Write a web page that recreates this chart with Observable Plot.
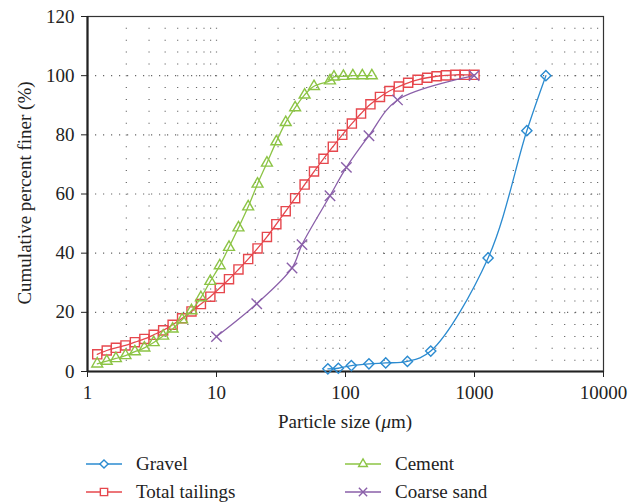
<!DOCTYPE html>
<html>
<head>
<meta charset="utf-8">
<script src="https://cdn.jsdelivr.net/npm/d3@7"></script>
<script src="https://cdn.jsdelivr.net/npm/@observablehq/plot@0.6"></script>
<style>
  body { margin: 0; background: white; font-family: "Liberation Serif", serif; }
  #legend { display: grid; grid-template-columns: 259px 250px; margin-left: 86px; margin-top: 5px; font-size: 19px; color: #222; }
  .item { display: flex; align-items: center; height: 28px; }
  .item svg { margin-right: 14px; }
</style>
</head>
<body>
<div id="chart"></div>
<div id="legend"></div>
<script>
// ---- data ----
const seriesNames = ["Gravel", "Total tailings", "Cement", "Coarse sand"];
const seriesColors = ["#2b8bd0", "#e6474d", "#8cc445", "#8a5fa9"];

const gravelSize = [73, 88, 111, 152, 205, 302, 458, 1275, 2545, 3575];
const gravelPct  = [0.9, 1.1, 2.0, 2.6, 2.9, 3.4, 6.9, 38.4, 81.4, 100];

const tailingsSize = [1.19, 1.41, 1.66, 1.97, 2.33, 2.76, 3.26, 3.86, 4.57, 5.41,
  6.40, 7.57, 8.96, 10.6, 12.5, 14.8, 17.6, 20.8, 24.6, 29.1,
  34.4, 40.7, 48.2, 57.0, 67.5, 79.8, 94.4, 112, 132, 156,
  185, 219, 259, 306, 362, 430, 508, 601, 711, 841, 1000];
const tailingsPct = [5.8, 7.1, 8.0, 8.8, 9.9, 11.0, 12.4, 13.9, 15.8, 18.0,
  20.3, 22.8, 25.3, 28.2, 31.2, 34.5, 38.0, 41.6, 45.5, 49.8,
  54.2, 58.6, 63.2, 67.6, 71.9, 76.0, 80.0, 83.8, 87.2, 90.3,
  92.8, 94.8, 96.3, 97.6, 98.6, 99.3, 99.8, 100.1, 100.3, 100.3, 100.3];

const cementSize = [1.19, 1.41, 1.66, 1.97, 2.33, 2.76, 3.26, 3.86, 4.57, 5.41,
  6.40, 7.57, 8.96, 10.6, 12.5, 14.8, 17.6, 20.8, 24.6, 29.1,
  34.4, 40.7, 48.2, 57.0, 75.8, 81.4, 96.3, 114, 135, 160];
const cementPct = [2.6, 3.5, 4.4, 5.4, 6.7, 8.0, 9.8, 12.0, 14.4, 17.5,
  20.6, 25.0, 30.5, 35.8, 42.0, 48.6, 55.7, 63.4, 70.5, 77.7,
  84.2, 89.2, 93.5, 96.4, 98.3, 99.6, 99.8, 100, 100, 100];

const sandSize = [10, 20.5, 38.5, 46, 75.8, 101.6, 152, 253, 993];
const sandPct  = [11.8, 22.9, 35.0, 42.9, 59.4, 69.0, 79.7, 91.8, 100];

const xTicks = [1, 10, 100, 1000, 10000];
const yTicks = [0, 20, 40, 60, 80, 100, 120];
const xMinor = [2,3,4,5,6,7,8,9,10,20,30,40,50,60,70,80,90,100,200,300,400,500,600,700,800,900,1000,2000,3000,4000,5000,6000,7000,8000,9000];
const yMajorGrid = [20, 40, 60, 80, 100];

// ---- build table ----
const sizes = [gravelSize, tailingsSize, cementSize, sandSize];
const pcts = [gravelPct, tailingsPct, cementPct, sandPct];
const symbols = ["diamond2", "square2", "triangle2", "times"];
const radii = [4.6, 5.8, 5.2, 4.8];
const rows = [];
seriesNames.forEach((name, s) => sizes[s].forEach((v, i) => rows.push({series: name, size: v, pct: pcts[s][i]})));

const lineMarks = [];
seriesNames.forEach((name, s) => {
  const d = rows.filter(r => r.series === name);
  lineMarks.push(Plot.line(d, {x: "size", y: "pct", stroke: seriesColors[s], strokeWidth: 1.3, curve: "catmull-rom"}));
  lineMarks.push(Plot.dot(d, {x: "size", y: "pct", stroke: seriesColors[s], symbol: () => symbols[s], r: radii[s], strokeWidth: 1.4, fill: "none"}));
});

const chart = Plot.plot({
  width: 639, height: 445,
  marginTop: 16, marginBottom: 74, marginLeft: 87, marginRight: 36,
  style: {fontFamily: "'Liberation Serif', serif", fontSize: "19px", color: "#222", background: "white", overflow: "visible"},
  x: {type: "log", domain: [1, 10000]},
  y: {domain: [0, 120]},
  symbol: {type: "identity"},
  marks: [
    Plot.ruleX(xMinor, {stroke: "#666", strokeWidth: 1.2, strokeDasharray: "1 10.85"}),
    Plot.ruleY(yMajorGrid, {stroke: "#666", strokeWidth: 1.1, strokeDasharray: "1.2 6.8"}),
    Plot.frame({stroke: "#333", strokeWidth: 1.2}),
    Plot.axisX({ticks: xTicks, tickFormat: d => String(d), tickSize: 6, tickPadding: 8, label: null, stroke: "#222"}),
    Plot.axisY({ticks: yTicks, tickSize: 6, tickPadding: 7, label: null}),
    Plot.ruleX([1], {stroke: "#222", strokeWidth: 2.2}),
    Plot.ruleY([0], {stroke: "#222", strokeWidth: 2.2}),
    ...lineMarks
  ]
});
document.getElementById("chart").appendChild(chart);

// axis titles
const svg = d3.select(chart);
const xl = svg.append("text").attr("x", 345).attr("y", 428).attr("text-anchor", "middle").attr("fill", "#222");
xl.append("tspan").text("Particle size (");
xl.append("tspan").attr("font-style", "italic").text("μ");
xl.append("tspan").text("m)");
svg.append("text").attr("transform", "translate(31,193) rotate(-90)").attr("text-anchor", "middle").attr("fill", "#222").text("Cumulative percent finer (%)");

// legend
const order = [0, 2, 1, 3];
const leg = d3.select("#legend");
const symFns = [d3.symbolDiamond2, d3.symbolSquare2, d3.symbolTriangle2, d3.symbolTimes];
order.forEach(s => {
  const it = leg.append("div").attr("class", "item");
  const sv = it.append("svg").attr("width", 36).attr("height", 16);
  sv.append("line").attr("x1", 0).attr("x2", 36).attr("y1", 8).attr("y2", 8).attr("stroke", seriesColors[s]).attr("stroke-width", 1.3);
  sv.append("path").attr("transform", "translate(18,8)")
    .attr("d", d3.symbol(symFns[s], Math.PI * (radii[s] * 0.8) ** 2)())
    .attr("fill", "white").attr("stroke", seriesColors[s]).attr("stroke-width", 1.4);
  it.append("span").text(seriesNames[s]);
});
</script>
</body>
</html>
